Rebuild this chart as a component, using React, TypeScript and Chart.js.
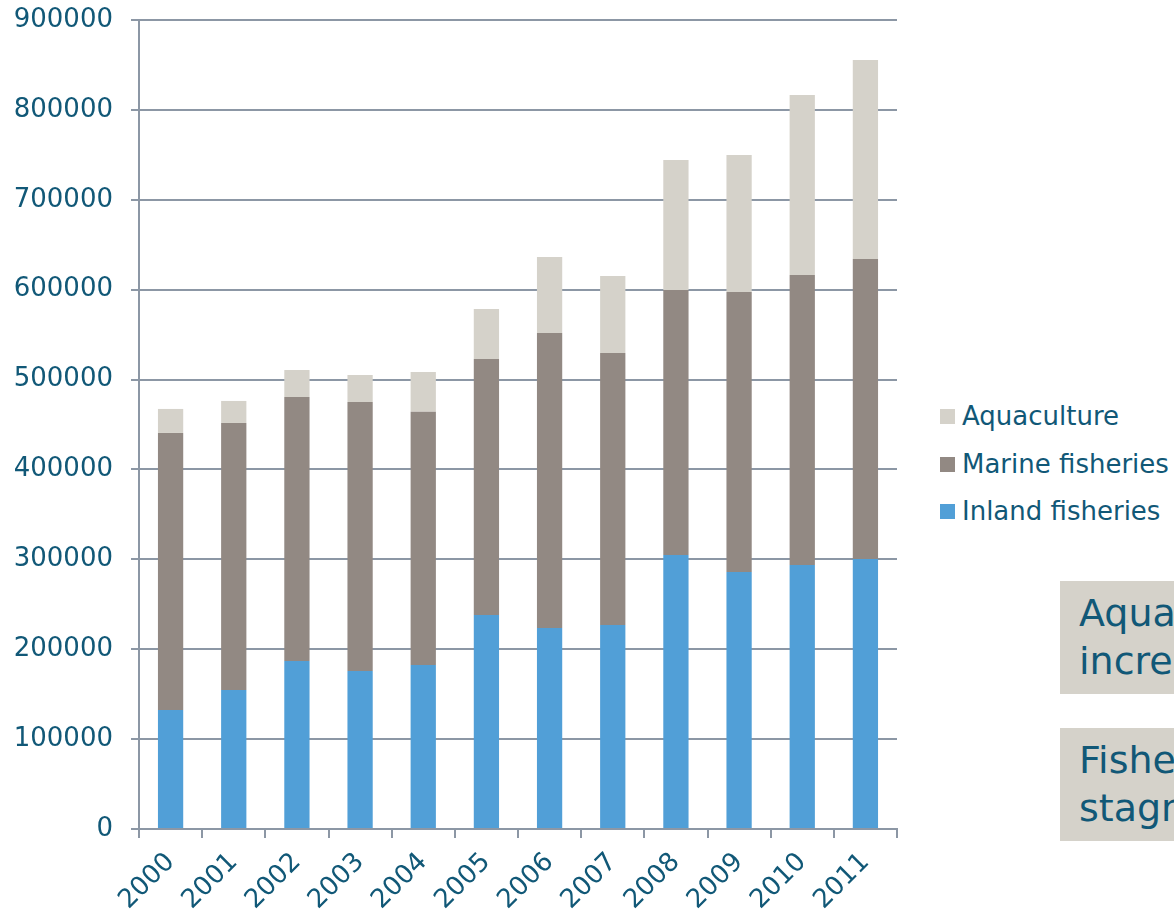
import React, { useEffect, useRef } from "react";
import { Chart, registerables } from "chart.js";

Chart.register(...registerables);

const years = ["2000", "2001", "2002", "2003", "2004", "2005", "2006", "2007", "2008", "2009", "2010", "2011"];
const inlandFisheries = [132400, 154600, 186900, 175800, 182400, 238100, 223600, 227000, 304800, 285900, 293700, 300400];
const marineFisheries = [308200, 297100, 293700, 299200, 281800, 284800, 328200, 302600, 294800, 311500, 322600, 333700];
const aquaculture = [26700, 24500, 30000, 30100, 44200, 55600, 84600, 85700, 144700, 152400, 200300, 221400];
const seriesNames = ["Inland fisheries", "Marine fisheries", "Aquaculture"];
const seriesColors = ["#519fd7", "#928983", "#d5d2ca"];
const yTicks = [0, 100000, 200000, 300000, 400000, 500000, 600000, 700000, 800000, 900000];
const notes = [
  ["Aquaculture", "increasing"],
  ["Fisheries", "stagnating"],
];

const FONT = "'DejaVu Sans', Verdana, sans-serif";
const TEXT = "#115877";
const GRID = "#8c97a5";

export default function App() {
  const ref = useRef<HTMLCanvasElement | null>(null);

  useEffect(() => {
    if (!ref.current) return;
    const values = [inlandFisheries, marineFisheries, aquaculture];
    const chart = new Chart(ref.current, {
      type: "bar",
      data: {
        labels: years,
        datasets: seriesNames.map((name, i) => ({
          label: name,
          data: values[i],
          backgroundColor: seriesColors[i],
          borderWidth: 0,
          barPercentage: 0.4,
          categoryPercentage: 1,
        })),
      },
      options: {
        animation: false,
        responsive: false,
        maintainAspectRatio: false,
        layout: { padding: { top: 0, right: 3, left: 0, bottom: 0 } },
        plugins: { legend: { display: false }, tooltip: { enabled: false }, title: { display: false } },
        scales: {
          x: {
            stacked: true,
            offset: true,
            grid: { display: true, drawOnChartArea: false, drawTicks: true, tickLength: 9, color: GRID, lineWidth: 2, offset: true },
            border: { display: true, color: GRID, width: 2 },
            ticks: { font: { family: FONT, size: 26 }, color: TEXT, maxRotation: 45, minRotation: 45, padding: 9, autoSkip: false },
            afterFit: (s: any) => { s.height = 84; s.paddingRight = 0; },
          },
          y: {
            stacked: true,
            min: 0,
            max: 900000,
            afterBuildTicks: (s: any) => { s.ticks = yTicks.map((v) => ({ value: v })); },
            ticks: { font: { family: FONT, size: 26 }, color: TEXT, padding: 18, callback: (v: any) => String(v) },
            grid: { color: GRID, lineWidth: 2, tickLength: 8, drawTicks: true },
            border: { display: true, color: GRID, width: 2 },
            afterFit: (s: any) => { s.width = 139; s.paddingTop = 20; s.paddingBottom = 0; },
          },
        },
      },
    });
    return () => chart.destroy();
  }, []);

  const legendOrder = [2, 1, 0];
  const legendTops = [416, 464, 511];

  return (
    <div style={{ position: "fixed", left: 0, top: 0, width: 1174, height: 913, overflow: "hidden", background: "#fff", fontFamily: FONT }}>
      <canvas ref={ref} width={900} height={913} style={{ position: "absolute", left: 0, top: 0, width: 900, height: 913 }} />
      {legendOrder.map((idx, k) => (
        <div key={seriesNames[idx]} style={{ position: "absolute", left: 940, top: legendTops[k] - 16, height: 32, display: "flex", alignItems: "center", whiteSpace: "nowrap" }}>
          <span style={{ display: "inline-block", width: 15, height: 15, background: seriesColors[idx], marginRight: 7 }} />
          <span style={{ fontSize: 26, color: TEXT, lineHeight: "32px" }}>{seriesNames[idx]}</span>
        </div>
      ))}
      {notes.map((lines, i) => (
        <div key={i} style={{ position: "absolute", left: 1060, top: i === 0 ? 581 : 728, width: 300, height: 113, background: "#d5d2ca", color: TEXT, fontSize: 38, lineHeight: "48px", padding: "8px 0 0 19px", boxSizing: "border-box", whiteSpace: "nowrap" }}>
          {lines.map((l) => (<div key={l}>{l}</div>))}
        </div>
      ))}
    </div>
  );
}
